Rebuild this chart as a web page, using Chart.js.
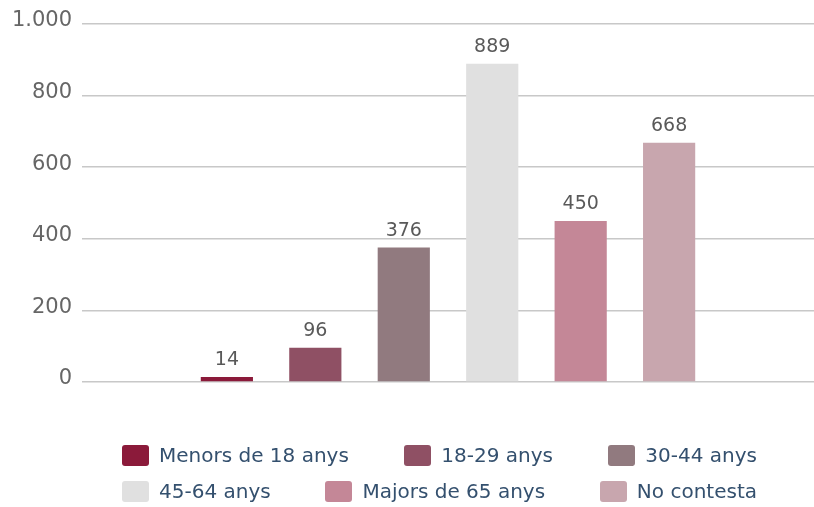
<!DOCTYPE html>
<html>
<head>
<meta charset="utf-8">
<script src="https://cdn.jsdelivr.net/npm/chart.js@4/dist/chart.umd.min.js"></script>
<style>
  html, body { margin: 0; padding: 0; background: #fff; }
  #wrap { position: relative; width: 814px; height: 507px; }
  #legend { position: absolute; left: 122px; width: 635px; top: 437px; font-family: 'DejaVu Sans', Verdana, sans-serif; font-size: 20px; color: #34506e; }
  .row { display: flex; justify-content: space-between; height: 36px; align-items: center; }
  .item { display: flex; align-items: center; white-space: nowrap; }
  .box { width: 27px; height: 21px; border-radius: 3px; margin-right: 10px; }
</style>
</head>
<body>
<div id="wrap">
  <canvas id="ageChart" width="814" height="507"></canvas>
  <div id="legend"></div>
</div>
<script>
const categories = ['Menors de 18 anys', '18-29 anys', '30-44 anys', '45-64 anys', 'Majors de 65 anys', 'No contesta']
const values = [14, 96, 376, 889, 450, 668]
const colors = ['#8b1a3a', '#8f5064', '#917a7f', '#e0e0e0', '#c48797', '#c8a6ae']
const yTicks = [0, 200, 400, 600, 800, 1000]

const formatNum = (v) => v.toString().replace(/\B(?=(\d{3})+(?!\d))/g, '.')

// value labels above each bar
const valueLabels = {
    id: 'valueLabels',
    afterDatasetsDraw(chart) {
        const ctx = chart.ctx
        ctx.save()
        ctx.font = '19px "DejaVu Sans", Verdana, sans-serif'
        ctx.fillStyle = '#595959'
        ctx.textAlign = 'center'
        ctx.textBaseline = 'bottom'
        chart.data.datasets.forEach((ds, i) => {
            const bar = chart.getDatasetMeta(i).data[0]
            ctx.fillText(formatNum(ds.data[0]), bar.x, bar.y - 7)
        })
        ctx.restore()
    }
}

const htmlLegend = {
    id: 'htmlLegend',
    afterUpdate(chart) {
        const el = document.getElementById('legend')
        el.innerHTML = ''
        const items = chart.options.plugins.legend.labels.generateLabels(chart)
        for (let r = 0; r < 2; r++) {
            const row = document.createElement('div')
            row.className = 'row'
            items.slice(r * 3, r * 3 + 3).forEach((it) => {
                const item = document.createElement('div')
                item.className = 'item'
                const box = document.createElement('span')
                box.className = 'box'
                box.style.background = it.fillStyle
                const txt = document.createElement('span')
                txt.textContent = it.text
                item.appendChild(box)
                item.appendChild(txt)
                row.appendChild(item)
            })
            el.appendChild(row)
        }
    }
}

new Chart(document.getElementById('ageChart'), {
    type: 'bar',
    data: {
        labels: [''],
        datasets: categories.map((c, i) => ({
            label: c,
            data: [values[i]],
            backgroundColor: colors[i],
            categoryPercentage: 0.725,
            barPercentage: 0.59
        }))
    },
    options: {
        responsive: false,
        animation: false,
        layout: { padding: { top: 24, bottom: 125, right: 0, left: 0 } },
        scales: {
            x: { display: false },
            y: {
                min: 0,
                max: 1000,
                afterBuildTicks: (axis) => { axis.ticks = yTicks.map((v) => ({ value: v })) },
                afterFit: (axis) => { axis.width = 82 },
                border: { display: false },
                grid: { color: '#c8c8c8', lineWidth: 1.5, drawTicks: false },
                ticks: {
                    padding: 10,
                    labelOffset: -3,
                    color: '#666',
                    font: { family: '"DejaVu Sans", Verdana, sans-serif', size: 21 },
                    callback: (v) => formatNum(v)
                }
            }
        },
        plugins: {
            legend: { display: false },
            tooltip: { enabled: false }
        }
    },
    plugins: [valueLabels, htmlLegend]
})
</script>
</body>
</html>
